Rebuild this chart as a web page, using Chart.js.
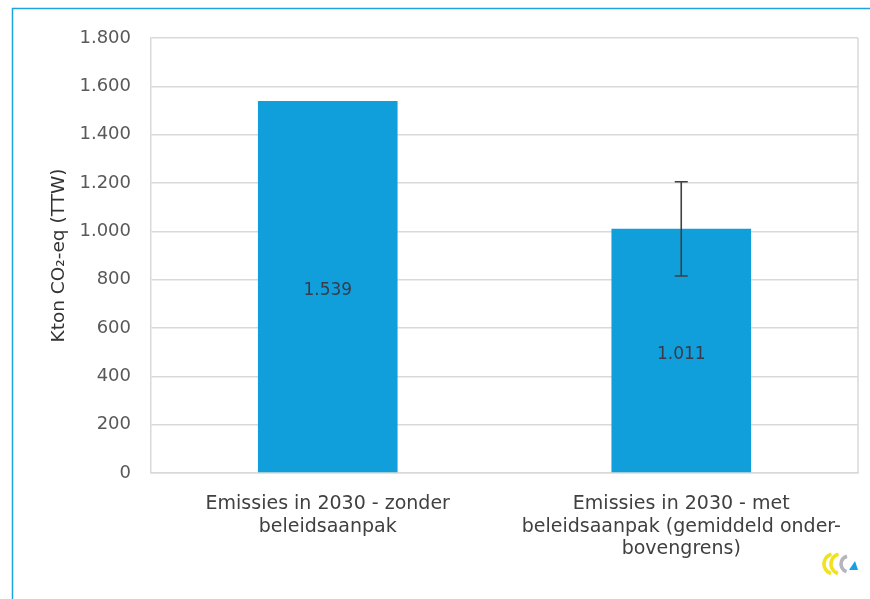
<!DOCTYPE html>
<html>
<head>
<meta charset="utf-8">
<script src="https://cdn.jsdelivr.net/npm/chart.js@4/dist/chart.umd.min.js"></script>
<style>
  html, body { margin: 0; padding: 0; background: #fff; }
  #wrap { width: 870px; height: 599px; position: relative; }
</style>
</head>
<body>
<div id="wrap"><canvas id="emissieChart" width="870" height="599"></canvas></div>
<script>
// Categorieën en waarden (kton CO2-eq)
const categorieen = [
  ['Emissies in 2030 - zonder', 'beleidsaanpak'],
  ['Emissies in 2030 - met', 'beleidsaanpak (gemiddeld onder-', 'bovengrens)']
];
const emissies = [1539, 1011];
// Foutmarge (onder- en bovengrens)
const ondergrens = [null, 815];
const bovengrens = [null, 1205];
const yTicks = [0, 200, 400, 600, 800, 1000, 1200, 1400, 1600, 1800];

const fontFam = '"DejaVu Sans", sans-serif';

// Getal in Nederlandse notatie (1.539)
function nl(v) {
  return v.toLocaleString('nl-NL');
}

// Kader linksboven en logo
const kaderPlugin = {
  id: 'kader',
  beforeDraw(chart) {
    const ctx = chart.ctx;
    ctx.save();
    ctx.strokeStyle = '#1ea4dc';
    ctx.lineWidth = 1.5;
    ctx.beginPath();
    ctx.moveTo(12.5, 599);
    ctx.lineTo(12.5, 8.5);
    ctx.lineTo(870, 8.5);
    ctx.stroke();
    ctx.restore();
  },
  afterDraw(chart) {
    const ctx = chart.ctx;
    ctx.save();
    ctx.lineWidth = 3.5;
    ctx.strokeStyle = '#f0e21c';
    ctx.beginPath();
    ctx.arc(834, 564, 10, Math.PI * 0.6, Math.PI * 1.42);
    ctx.stroke();
    ctx.beginPath();
    ctx.arc(841, 564, 10, Math.PI * 0.6, Math.PI * 1.42);
    ctx.stroke();
    ctx.strokeStyle = '#b5b5bd';
    ctx.beginPath();
    ctx.arc(849, 564, 8, Math.PI * 0.6, Math.PI * 1.42);
    ctx.stroke();
    ctx.fillStyle = '#1a9fe0';
    ctx.beginPath();
    ctx.moveTo(849, 570);
    ctx.lineTo(858, 570);
    ctx.lineTo(855, 561);
    ctx.closePath();
    ctx.fill();
    ctx.restore();
  }
};

// Foutbalken en waardelabels
const foutPlugin = {
  id: 'fout',
  afterDatasetsDraw(chart) {
    const ctx = chart.ctx;
    const y = chart.scales.y;
    const meta = chart.getDatasetMeta(0);
    ctx.save();
    meta.data.forEach((bar, i) => {
      // waardelabel in het midden van de balk
      ctx.fillStyle = '#3a3a4a';
      ctx.font = '17px ' + fontFam;
      ctx.textAlign = 'center';
      ctx.textBaseline = 'middle';
      ctx.fillText(nl(emissies[i]), bar.x, y.getPixelForValue(emissies[i] / 2) + 4);
      if (ondergrens[i] == null) return;
      const yLo = y.getPixelForValue(ondergrens[i]);
      const yHi = y.getPixelForValue(bovengrens[i]);
      ctx.strokeStyle = '#404040';
      ctx.lineWidth = 1.6;
      ctx.beginPath();
      ctx.moveTo(bar.x, yLo);
      ctx.lineTo(bar.x, yHi);
      ctx.moveTo(bar.x - 6.5, yLo);
      ctx.lineTo(bar.x + 6.5, yLo);
      ctx.moveTo(bar.x - 6.5, yHi);
      ctx.lineTo(bar.x + 6.5, yHi);
      ctx.stroke();
    });
    ctx.restore();
  }
};

new Chart(document.getElementById('emissieChart'), {
  type: 'bar',
  data: {
    labels: categorieen,
    datasets: [{
      data: emissies,
      backgroundColor: '#109fda',
      borderWidth: 0,
      barPercentage: 0.79,
      categoryPercentage: 0.5
    }]
  },
  options: {
    responsive: false,
    animation: false,
    layout: { padding: { top: 38, right: 12, left: 0, bottom: 0 } },
    plugins: {
      legend: { display: false },
      tooltip: { enabled: false }
    },
    scales: {
      x: {
        grid: { display: false, drawTicks: false },
        border: { color: '#d9d9d9', width: 1.5 },
        ticks: {
          color: '#404040',
          font: { family: fontFam, size: 19, lineHeight: 1.19 },
          padding: 20,
          maxRotation: 0
        },
        afterFit(scale) { scale.height = 126; }
      },
      y: {
        min: 0,
        max: 1800,
        afterBuildTicks(scale) { scale.ticks = yTicks.map(v => ({ value: v })); },
        grid: { color: '#d9d9d9', lineWidth: 1.5, drawTicks: false },
        border: { color: '#d9d9d9', width: 1.5 },
        ticks: {
          color: '#595959',
          font: { family: fontFam, size: 18 },
          padding: 20,
          callback: v => nl(v)
        },
        title: {
          display: true,
          text: 'Kton CO₂-eq (TTW)',
          color: '#333',
          font: { family: fontFam, size: 18.5 },
          padding: { top: 48, bottom: 0 }
        },
        afterFit(scale) { scale.width = 151; }
      }
    }
  },
  plugins: [kaderPlugin, foutPlugin, {
    id: 'rechterrand',
    beforeDatasetsDraw(chart) {
      const a = chart.chartArea;
      const ctx = chart.ctx;
      ctx.save();
      ctx.strokeStyle = '#d9d9d9';
      ctx.lineWidth = 1.5;
      ctx.beginPath();
      ctx.moveTo(a.right, a.top);
      ctx.lineTo(a.right, a.bottom);
      ctx.stroke();
      ctx.restore();
    }
  }]
});
</script>
</body>
</html>
